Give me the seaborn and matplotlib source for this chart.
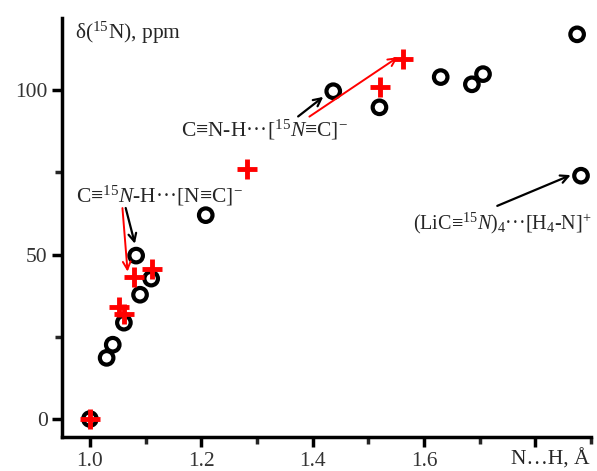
import numpy as np
import pandas as pd
import matplotlib
matplotlib.use("Agg")
import matplotlib.pyplot as plt
from matplotlib.ticker import MultipleLocator
import seaborn as sns

# calculated shifts (open circles)
calc_x = [1.00, 1.030, 1.041, 1.061, 1.090, 1.083, 1.110, 1.208, 1.437, 1.520, 1.630, 1.686, 1.706, 1.875, 1.882]
calc_y = [0.0, 18.6, 22.6, 29.3, 37.8, 49.7, 42.7, 62.0, 99.7, 94.8, 104.0, 101.8, 104.9, 117.0, 74.0]

# experimental shifts (red crosses)
exp_x = [1.00, 1.053, 1.062, 1.079, 1.111, 1.282, 1.521, 1.563]
exp_y = [0.0, 34.0, 32.0, 43.3, 45.7, 75.9, 100.9, 109.5]

sns.set_theme(style="ticks")
plt.rcParams['font.family'] = ['Liberation Serif', 'DejaVu Serif']
plt.rcParams['mathtext.fontset'] = 'custom'
plt.rcParams['mathtext.rm'] = 'Liberation Serif'
plt.rcParams['mathtext.it'] = 'Liberation Serif:italic'

fig = plt.figure(figsize=(5.97, 4.71), dpi=100)
ax = fig.add_axes([0.104, 0.072, 0.886, 0.89])

calc = pd.DataFrame({'r': calc_x, 'd': calc_y})
exp = pd.DataFrame({'r': exp_x, 'd': exp_y})

sns.scatterplot(data=calc, x='r', y='d', ax=ax, marker='o', s=95,
                facecolor='none', edgecolor='black', linewidth=3, zorder=3)
sns.scatterplot(data=exp, x='r', y='d', ax=ax, marker='+', s=200,
                color='red', linewidth=3.5, zorder=4)

ax.set_xlim(0.95, 1.9)
ax.set_ylim(-5.5, 122)
ax.set_xlabel('')
ax.set_ylabel('')
ax.xaxis.set_minor_locator(MultipleLocator(0.1))
ax.yaxis.set_major_locator(MultipleLocator(50))
ax.yaxis.set_minor_locator(MultipleLocator(25))
ax.set_xticks([1.0, 1.2, 1.4, 1.6, 1.8])
ax.set_xticklabels(['1.0', '1.2', '1.4', '1.6', ''])
ax.tick_params(which='major', length=7, width=2.5, labelsize=15.5, colors='black')
ax.tick_params(which='minor', length=5, width=2.5)
for lbl in ax.get_xticklabels() + ax.get_yticklabels():
    lbl.set_color('#333333')
sns.despine(ax=ax)
for side in ['left', 'bottom']:
    ax.spines[side].set_linewidth(2.5)
    ax.spines[side].set_color('black')

fs = 15.5
ax.text(0.973, 117.5, r'δ($^{15}$N), ppm', fontsize=fs, ha='left', va='center')
ax.text(1.826, -9.3, 'N…H, Å', fontsize=fs, ha='center', va='top')

ax.text(1.314, 88.0, r'C≡N-H···[$^{15}$$\mathit{N}$≡C]$^{-}$', fontsize=fs, ha='center', va='center')
ax.text(1.124, 68.0, r'C≡$^{15}$$\mathit{N}$-H···[N≡C]$^{-}$', fontsize=fs, ha='center', va='center')
ax.text(1.9, 59.5, r'(LiC≡$^{15}$$\mathit{N}$)$_{4}$···[H$_{4}$-N]$^{+}$', fontsize=14.5, ha='right', va='center')

arw_k = dict(arrowstyle='->', color='black', lw=1.6, mutation_scale=14)
arw_r = dict(arrowstyle='->', color='red', lw=1.4, mutation_scale=14)
ax.annotate('', xy=(1.423, 98.5), xytext=(1.37, 91.5), arrowprops=arw_k)
ax.annotate('', xy=(1.557, 110.5), xytext=(1.39, 91.5), arrowprops=arw_r)
ax.annotate('', xy=(1.082, 52.5), xytext=(1.063, 65.0), arrowprops=arw_k)
ax.annotate('', xy=(1.068, 44.0), xytext=(1.058, 65.0), arrowprops=arw_r)
ax.annotate('', xy=(1.868, 74.5), xytext=(1.727, 64.5), arrowprops=arw_k)

fig.savefig('out.png', dpi=100)
